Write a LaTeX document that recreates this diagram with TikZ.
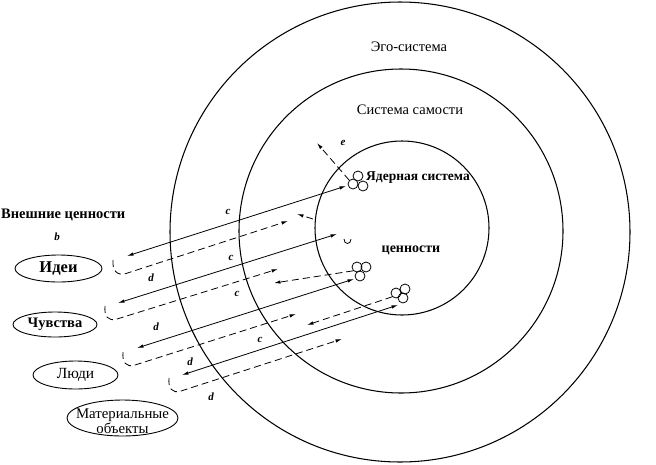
\documentclass[tikz,border=0pt]{standalone}
\usepackage{fontspec}
\setmainfont{Liberation Serif}
\usetikzlibrary{arrows.meta,shapes.geometric}
\begin{document}
\begin{tikzpicture}[x=1pt,y=-1pt,
  ring/.style={draw,circle,inner sep=0pt,line width=1.05pt},
  atom/.style={draw,circle,inner sep=0pt,minimum size=10pt,line width=0.8pt},
  sol/.style={line width=0.8pt,{Latex[length=6.5pt,width=3.4pt]}-{Latex[length=6.5pt,width=3.4pt]}},
  das/.style={line width=0.8pt,dash pattern=on 7pt off 4pt,-{Latex[length=6.5pt,width=3.4pt]}},
  val/.style={draw,ellipse,inner sep=0pt,line width=0.9pt},
  lab/.style={inner sep=0pt,font=\fontsize{11}{12}\selectfont\bfseries\itshape},
  txt/.style={inner sep=0pt,font=\fontsize{14.5}{16}\selectfont},
  btxt/.style={inner sep=0pt,font=\fontsize{14}{16}\selectfont\bfseries}]
\useasboundingbox (0,0) rectangle (656,464);
% rings
\node[ring,minimum size=460pt] (ego) at (400,232) {};
\node[ring,minimum size=324pt] (self) at (401,231) {};
\node[ring,minimum size=174pt] (core) at (402,228) {};
% ring labels
\node[txt] (tego) at (409,47) {Эго-система};
\node[txt] (tself) at (410,110) {Система самости};
\node[btxt,font=\fontsize{13.5}{16}\selectfont\bfseries] (tcore) at (418,178) {Ядерная система};
\node[btxt] (tval) at (411,250) {ценности};
% external values
\node[btxt,anchor=west,font=\fontsize{14.5}{16}\selectfont\bfseries] (ext) at (1,215) {Внешние ценности};
\node[lab] (lb) at (57,237) {b};
\node[val,minimum width=87pt,minimum height=27pt,font=\fontsize{16.5}{18}\selectfont\bfseries] (ideas) at (58.5,268.5) {Идеи};
\node[val,minimum width=84pt,minimum height=25pt,font=\fontsize{14.5}{16}\selectfont\bfseries] (feel) at (55,324.5) {Чувства};
\node[val,minimum width=85pt,minimum height=28pt,font=\fontsize{15.5}{16}\selectfont] (people) at (75.5,375) {Люди};
\node[val,minimum width=111pt,minimum height=36pt] (objs) at (122.5,418) {};
\node[inner sep=0pt,align=center,font=\fontsize{14.8}{12.5}\selectfont] (tobjs) at (122.5,421.5) {Материальные\\объекты};
% atom clusters
\node[atom] (k1a) at (358,176) {};
\node[atom] (k1b) at (353,184) {};
\node[atom] (k1c) at (363,186) {};
\node[atom] (k2a) at (357,267) {};
\node[atom] (k2b) at (366,267) {};
\node[atom] (k2c) at (360,276) {};
\node[atom] (k3a) at (396,293) {};
\node[atom] (k3b) at (405,289) {};
\node[atom] (k3c) at (403,298) {};
% cup
\coordinate (cupl) at (344,239);
\coordinate (cupr) at (351,239);
\draw[line width=0.8pt] (cupl) .. controls (344,245) and (351,245) .. (cupr);
% endpoints
\coordinate (s1l) at (127,256); \coordinate (s1r) at (346,186);
\coordinate (s2l) at (118,303); \coordinate (s2r) at (337,234);
\coordinate (s3l) at (137,348); \coordinate (s3r) at (354,279);
\coordinate (s4l) at (182,375); \coordinate (s4r) at (398,305);
% solid c arrows
\draw[sol] (s1l) -- (s1r);
\draw[sol] (s2l) -- (s2r);
\draw[sol] (s3l) -- (s3r);
\draw[sol] (s4l) -- (s4r);
% dashed d returns
\coordinate (d1s) at (113,260); \coordinate (d1b) at (126,273.5); \coordinate (d1e) at (288,221);
\coordinate (d2s) at (105,306); \coordinate (d2b) at (117,319); \coordinate (d2e) at (278,269);
\coordinate (d3s) at (123,352); \coordinate (d3b) at (135,365); \coordinate (d3e) at (296,314);
\coordinate (d4s) at (169,378); \coordinate (d4b) at (181,391); \coordinate (d4e) at (342,339);
\draw[das] (d1s) .. controls (112,270) and (117,276.4) .. (d1b) -- (d1e);
\draw[das] (d2s) .. controls (104,316) and (108,321.8) .. (d2b) -- (d2e);
\draw[das] (d3s) .. controls (122,362) and (126,367.9) .. (d3b) -- (d3e);
\draw[das] (d4s) .. controls (168,388) and (172,393.9) .. (d4b) -- (d4e);
% dashed outward arrows
\coordinate (e1) at (317,143);
\coordinate (e2s) at (313,219); \coordinate (e2) at (297,214);
\coordinate (e3) at (274,283);
\coordinate (e4) at (307,325);
\draw[das] (k1b.north west) -- (e1);
\draw[das] (e2s) -- (e2);
\draw[das] (k2a.south west) -- (e3);
\draw[das] (k3a.south west) -- (e4);
% letter labels
\node[lab] (le) at (343,143) {e};
\node[lab] (lc1) at (228,212) {c};
\node[lab] (lc2) at (231,258) {c};
\node[lab] (lc3) at (237,294) {c};
\node[lab] (lc4) at (260,340) {c};
\node[lab] (ld1) at (151,278) {d};
\node[lab] (ld2) at (156,327) {d};
\node[lab] (ld3) at (190,362) {d};
\node[lab] (ld4) at (211,397) {d};
\end{tikzpicture}
\end{document}
